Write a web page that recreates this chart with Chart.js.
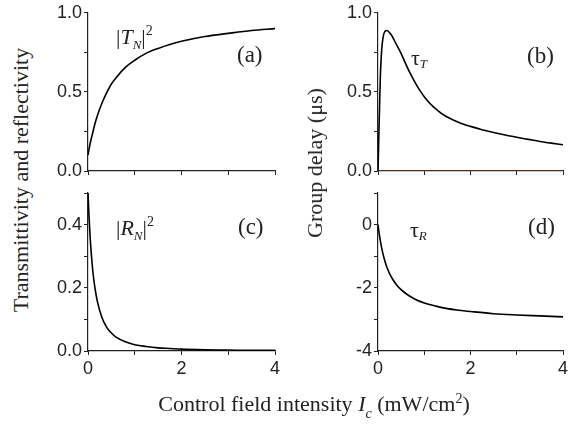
<!DOCTYPE html>
<html>
<head>
<meta charset="utf-8">
<script src="https://cdn.jsdelivr.net/npm/chart.js@4.4.1/dist/chart.umd.min.js"></script>
<style>
    body { margin: 0; width: 568px; height: 427px; background: #fff; overflow: hidden; position: relative; }
    canvas { position: absolute; }
    .axis-title { position: absolute; font-family: "Liberation Serif", "Times New Roman", serif; font-size: 22px; line-height: 22px; color: #222; white-space: nowrap; }
    .rot { transform: translate(-50%, -50%) rotate(-90deg); }
</style>
</head>
<body>
<canvas id="chartA" width="245" height="185" style="left:40px; top:0px;"></canvas>
<canvas id="chartB" width="243" height="185" style="left:330px; top:0px;"></canvas>
<canvas id="chartC" width="245" height="212" style="left:40px; top:180px;"></canvas>
<canvas id="chartD" width="243" height="212" style="left:330px; top:180px;"></canvas>

<div class="axis-title rot" style="left:21px; top:180px;">Transmittivity and reflectivity</div>
<div class="axis-title rot" style="left:315px; top:163px;">Group delay (μs)</div>
<div class="axis-title" style="left:314px; top:393px; transform: translateX(-50%);">Control field intensity <i>I</i><span style="font-size:14px; font-style:italic; position:relative; top:7px;">c</span> (mW/cm<span style="font-size:14px; position:relative; top:-8px;">2</span>)</div>

<script>
// control field intensity (mW/cm2)
const intensity = [0, 0.02, 0.05, 0.1, 0.15, 0.2, 0.3, 0.4, 0.5, 0.6, 0.8, 1.0, 1.25, 1.5, 1.75, 2.0, 2.5, 3.0, 3.5, 4.0];
const transmittivity = [0.10, 0.135, 0.18, 0.24, 0.30, 0.35, 0.43, 0.495, 0.55, 0.59, 0.655, 0.70, 0.745, 0.775, 0.80, 0.82, 0.85, 0.87, 0.888, 0.90];
const reflectivity = [0.50, 0.43, 0.35, 0.257, 0.198, 0.157, 0.105, 0.075, 0.057, 0.044, 0.029, 0.020, 0.014, 0.010, 0.008, 0.006, 0.004, 0.003, 0.002, 0.002];
const delayReflected = [0, -0.23, -0.51, -0.88, -1.16, -1.38, -1.69, -1.90, -2.06, -2.18, -2.36, -2.48, -2.58, -2.66, -2.71, -2.75, -2.82, -2.86, -2.89, -2.92];

// finer grid for the transmitted delay peak
const intensityFine = [0, 0.01, 0.02, 0.035, 0.05, 0.07, 0.09, 0.12, 0.15, 0.19, 0.24, 0.3, 0.38, 0.48, 0.58, 0.7, 0.84, 0.92, 1.0, 1.1, 1.2, 1.3, 1.4, 1.55, 1.7, 1.85, 2.0, 2.25, 2.5, 2.75, 3.0, 3.25, 3.5, 3.75, 4.0];
const delayTransmitted = [0, 0.12, 0.25, 0.42, 0.59, 0.72, 0.80, 0.86, 0.882, 0.888, 0.878, 0.855, 0.81, 0.755, 0.69, 0.615, 0.54, 0.503, 0.47, 0.435, 0.405, 0.38, 0.358, 0.333, 0.313, 0.296, 0.282, 0.261, 0.243, 0.227, 0.213, 0.2, 0.187, 0.176, 0.166];
const zeroLine = [0, 0];
const zeroLineX = [0, 4];

const xTicks = [0, 2, 4];

const SERIF = '"Liberation Serif", "Times New Roman", serif';
const SANS = '"Liberation Sans", Arial, sans-serif';

function toPoints(xs, ys) {
    return xs.map((x, i) => ({ x: x, y: ys[i] }));
}

// draws the small in-panel labels like |T_N|^2 and (a)
const panelTextPlugin = {
    id: 'panelText',
    afterDatasetsDraw(chart, args, opts) {
        const ctx = chart.ctx;
        const area = chart.chartArea;
        ctx.save();
        ctx.fillStyle = '#222';
        ctx.textBaseline = 'alphabetic';
        (opts.labels || []).forEach(label => {
            let x = area.left + label.x;
            label.parts.forEach(part => {
                ctx.font = (part.italic ? 'italic ' : '') + part.size + 'px ' + SERIF;
                ctx.fillText(part.text, x, area.top + label.y + (part.dy || 0));
                x += ctx.measureText(part.text).width + (part.gap || 0);
            });
        });
        ctx.restore();
    }
};

function makePanel(canvasId, datasets, yOpts, showXLabels, labels) {
    const ctx = document.getElementById(canvasId).getContext('2d');
    return new Chart(ctx, {
        type: 'line',
        data: { datasets: datasets },
        options: {
            responsive: false,
            animation: false,
            layout: { padding: { top: yOpts.padTop, right: yOpts.padRight, left: 0, bottom: 0 } },
            plugins: {
                legend: { display: false },
                tooltip: { enabled: false },
                panelText: { labels: labels }
            },
            elements: { point: { radius: 0 } },
            scales: {
                x: {
                    type: 'linear',
                    min: 0,
                    max: 4,
                    afterFit: s => { s.height = yOpts.xHeight; },
                    ticks: {
                        stepSize: 1,
                        padding: 3,
                        color: '#222',
                        font: { family: SANS, size: 18 },
                        maxRotation: 0,
                        callback: v => (showXLabels && xTicks.includes(v)) ? String(v) : ''
                    },
                    grid: { drawOnChartArea: false, drawTicks: true, tickLength: 4, color: '#222' },
                    border: { display: true, color: '#222', width: 1.2 }
                },
                y: {
                    min: yOpts.min,
                    max: yOpts.max,
                    afterFit: s => { s.width = 48; },
                    ticks: {
                        stepSize: yOpts.step,
                        padding: 2,
                        color: '#222',
                        font: { family: SANS, size: 18 },
                        callback: yOpts.format
                    },
                    grid: { drawOnChartArea: false, drawTicks: true, tickLength: 4, color: '#222' },
                    border: { display: true, color: '#222', width: 1.2 }
                }
            }
        },
        plugins: [panelTextPlugin]
    });
}

function curve(xs, ys, color) {
    return {
        data: toPoints(xs, ys),
        borderColor: color || '#000',
        borderWidth: 1.6,
        cubicInterpolationMode: 'monotone',
        fill: false
    };
}

function halfStepLabel(v) {
    const k = Math.round(v * 4);
    return k % 2 === 0 ? (k / 4).toFixed(1) : '';
}

function tenthLabel(v) {
    const k = Math.round(v * 10);
    return k % 2 === 0 && k < 5 ? (k / 10).toFixed(1) : '';
}

function delayLabel(v) {
    const k = Math.round(v);
    return k % 2 === 0 ? String(k) : '';
}

function drawAll() {
    makePanel('chartA', [curve(intensity, transmittivity)],
        { min: 0, max: 1, step: 0.25, format: halfStepLabel, padTop: 12, padRight: 10, xHeight: 14 },
        false,
        [
            { x: 28, y: 31, parts: [
                { text: '|', size: 22 },
                { text: 'T', size: 22, italic: true },
                { text: 'N', size: 13, italic: true, dy: 5 },
                { text: '|', size: 22 },
                { text: '2', size: 14, dy: -9 }
            ] },
            { x: 149, y: 49, parts: [{ text: '(a)', size: 23 }] }
        ]);

    makePanel('chartB', [curve(zeroLineX, zeroLine, '#7a2a22'), curve(intensityFine, delayTransmitted)],
        { min: 0, max: 1, step: 0.25, format: halfStepLabel, padTop: 12, padRight: 10, xHeight: 14 },
        false,
        [
            { x: 33, y: 52, parts: [
                { text: 'τ', size: 22 },
                { text: 'T', size: 13, italic: true, dy: 3 }
            ] },
            { x: 149, y: 50, parts: [{ text: '(b)', size: 23 }] }
        ]);

    makePanel('chartC', [curve(intensity, reflectivity)],
        { min: 0, max: 0.5, step: 0.1, format: tenthLabel, padTop: 13, padRight: 10, xHeight: 41 },
        true,
        [
            { x: 28, y: 42, parts: [
                { text: '|', size: 22 },
                { text: 'R', size: 22, italic: true },
                { text: 'N', size: 13, italic: true, dy: 5 },
                { text: '|', size: 22 },
                { text: '2', size: 14, dy: -9 }
            ] },
            { x: 150, y: 41, parts: [{ text: '(c)', size: 23 }] }
        ]);

    makePanel('chartD', [curve(intensity, delayReflected)],
        { min: -4, max: 1, step: 1, format: delayLabel, padTop: 13, padRight: 10, xHeight: 41 },
        true,
        [
            { x: 32, y: 44, parts: [
                { text: 'τ', size: 22 },
                { text: 'R', size: 13, italic: true, dy: 3 }
            ] },
            { x: 150, y: 41, parts: [{ text: '(d)', size: 23 }] }
        ]);
}

document.addEventListener('DOMContentLoaded', drawAll);
</script>
</body>
</html>
